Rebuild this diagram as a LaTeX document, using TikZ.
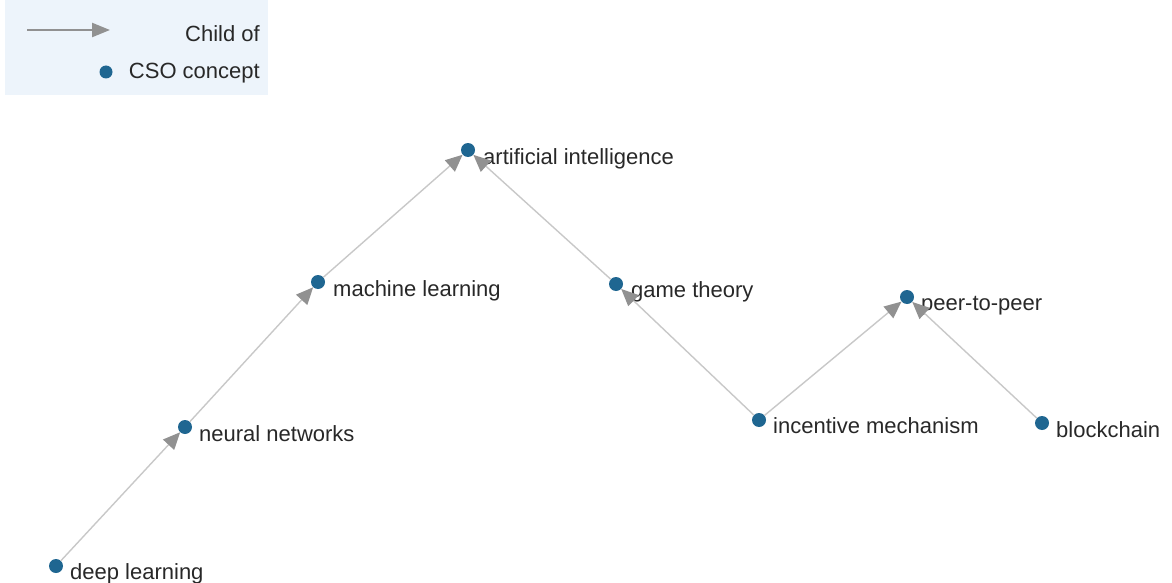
\documentclass[tikz,border=0pt]{standalone}
\usepackage{fontspec}
\setmainfont{Liberation Sans}
\usepackage{tikz}
\usetikzlibrary{arrows.meta, positioning}

\definecolor{csoblue}{RGB}{31,102,145}
\definecolor{edgegray}{RGB}{200,200,200}
\definecolor{tipgray}{RGB}{145,145,145}
\definecolor{legendbg}{RGB}{237,244,251}
\definecolor{txtgray}{RGB}{40,40,40}

\tikzset{
  concept/.style={circle, fill=csoblue, inner sep=0pt, minimum size=14pt},
  lbl/.style={anchor=mid west, inner sep=0pt, text=txtgray, font=\fontsize{22}{26}\selectfont},
  childof/.style={draw=edgegray, line width=1.4pt,
    -{Triangle[length=17pt, width=15pt, color=tipgray, fill=tipgray]}}
}

\begin{document}
\begin{tikzpicture}[x=1pt, y=-1pt]
\useasboundingbox (0,0) rectangle (1172,583);

% legend
\fill[legendbg] (5,0) rectangle (268,95);
\coordinate (legA) at (27,30);
\coordinate (legB) at (110,30);
\draw[draw=tipgray, line width=2.4pt, -{Triangle[length=18pt, width=14pt, color=tipgray]}] (legA) -- (legB);
\node[lbl, anchor=mid east] (leg1) at (260,39) {Child of};
\node[concept, minimum size=13pt] (legdot) at (106,72) {};
\node[lbl, anchor=mid east] (leg2) at (260,76) {CSO concept};

% concepts
\node[concept] (ai) at (468,150) {};
\node[concept] (ml) at (318,282) {};
\node[concept] (nn) at (185,427) {};
\node[concept] (dl) at (56,566) {};
\node[concept] (gt) at (616,284) {};
\node[concept] (im) at (759,420) {};
\node[concept] (pp) at (907,297) {};
\node[concept] (bc) at (1042,423) {};

\node[lbl] (ailbl) at (483,162) {artificial intelligence};
\node[lbl] (mllbl) at (333,294) {machine learning};
\node[lbl] (nnlbl) at (199,439) {neural networks};
\node[lbl] (dllbl) at (70,577) {deep learning};
\node[lbl] (gtlbl) at (631,295) {game theory};
\node[lbl] (imlbl) at (773,431) {incentive mechanism};
\node[lbl] (pplbl) at (921,308) {peer-to-peer};
\node[lbl] (bclbl) at (1056,435) {blockchain};

% child of
\draw[childof] (dl) -- (nn);
\draw[childof] (nn) -- (ml);
\draw[childof] (ml) -- (ai);
\draw[childof] (gt) -- (ai);
\draw[childof] (im) -- (gt);
\draw[childof] (im) -- (pp);
\draw[childof] (bc) -- (pp);
\end{tikzpicture}
\end{document}
